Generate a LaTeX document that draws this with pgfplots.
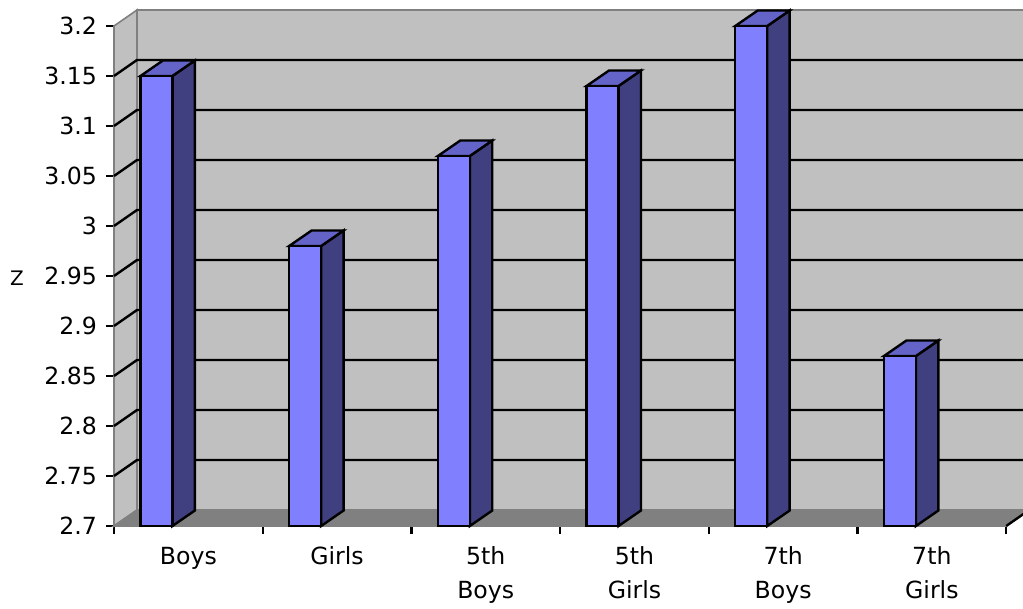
\documentclass[border=0pt]{standalone}
\usepackage{fontspec}
\setmainfont{DejaVu Sans}
\usepackage{pgfplots}
\pgfplotsset{compat=1.18}
\definecolor{front}{HTML}{8080FF}
\definecolor{side}{HTML}{404080}
\definecolor{topc}{HTML}{6464C8}
\definecolor{wall}{HTML}{C0C0C0}
\definecolor{floorc}{HTML}{808080}
\definecolor{edge}{HTML}{808080}
\begin{document}
\begin{tikzpicture}
\begin{axis}[
  at={(0,0)}, anchor=south west,
  scale only axis, width=446.1pt, height=250pt,
  xmin=0, xmax=6, ymin=2.7, ymax=3.2,
  clip=false,
  axis x line*=bottom, axis y line*=left,
  axis line style={black, line width=1.2pt, -},
  every tick/.style={black, line width=1.2pt},
  tick align=outside, major tick length=4pt,
  ytick={2.7,2.75,2.8,2.85,2.9,2.95,3,3.05,3.1,3.15,3.2},
  yticklabels={2.7,2.75,2.8,2.85,2.9,2.95,3,3.05,3.1,3.15,3.2},
  xtick={0,1,2,3,4,5,6},
  xticklabels={,,,,,,},
  extra x ticks={0.5,1.5,2.5,3.5,4.5,5.5},
  extra x tick labels={Boys,Girls,5th\\Boys,5th\\Girls,7th\\Boys,7th\\Girls},
  extra x tick style={major tick length=0pt},
  tick label style={font=\fontsize{11.8}{17}\selectfont},
  xticklabel style={align=center, anchor=north, yshift=-7pt},
  yticklabel style={xshift=-1pt},
  ylabel={Z},
  ylabel style={rotate=-90, font=\fontsize{11.8}{14}\selectfont},
  every axis y label/.style={at={(axis description cs:-0.1087,0.496)}, anchor=center},
]
% side wall
\addplot[fill=wall, draw=edge, line width=0.8pt, forget plot] coordinates {(0,2.7) (0.1547,2.716) (0.1547,3.216) (0,3.2)} -- cycle;
% back wall
\addplot[fill=wall, draw=edge, line width=0.8pt, forget plot] coordinates {(0.1547,2.716) (6.1547,2.716) (6.1547,3.216) (0.1547,3.216)} -- cycle;
% floor
\addplot[fill=floorc, draw=edge, line width=0.8pt, forget plot] coordinates {(0,2.7) (6,2.7) (6.1547,2.716) (0.1547,2.716)} -- cycle;
\addplot[black, line width=1.2pt, forget plot] coordinates {(6,2.7) (6.1547,2.716)};
% gridlines
\pgfplotsinvokeforeach{2.75,2.8,2.85,2.9,2.95,3,3.05,3.1,3.15}{
  \addplot[black, line width=1.2pt, forget plot] coordinates {(0,#1) (0.1547,#1+0.016) (6.1547,#1+0.016)};
}
% bars: side, top, front
\addplot[fill=side, draw=black, line width=1.2pt] coordinates {(0.393,2.7) (0.544,2.7155) (0.544,3.1655) (0.393,3.15)} -- cycle;
\addplot[fill=topc, draw=black, line width=1.2pt] coordinates {(0.178,3.15) (0.393,3.15) (0.544,3.1655) (0.329,3.1655)} -- cycle;
\addplot[fill=front, draw=black, line width=1.2pt] coordinates {(0.178,2.7) (0.393,2.7) (0.393,3.15) (0.178,3.15)} -- cycle;

\addplot[fill=side, draw=black, line width=1.2pt] coordinates {(1.393,2.7) (1.544,2.7155) (1.544,2.9955) (1.393,2.98)} -- cycle;
\addplot[fill=topc, draw=black, line width=1.2pt] coordinates {(1.178,2.98) (1.393,2.98) (1.544,2.9955) (1.329,2.9955)} -- cycle;
\addplot[fill=front, draw=black, line width=1.2pt] coordinates {(1.178,2.7) (1.393,2.7) (1.393,2.98) (1.178,2.98)} -- cycle;

\addplot[fill=side, draw=black, line width=1.2pt] coordinates {(2.393,2.7) (2.544,2.7155) (2.544,3.0855) (2.393,3.07)} -- cycle;
\addplot[fill=topc, draw=black, line width=1.2pt] coordinates {(2.178,3.07) (2.393,3.07) (2.544,3.0855) (2.329,3.0855)} -- cycle;
\addplot[fill=front, draw=black, line width=1.2pt] coordinates {(2.178,2.7) (2.393,2.7) (2.393,3.07) (2.178,3.07)} -- cycle;

\addplot[fill=side, draw=black, line width=1.2pt] coordinates {(3.393,2.7) (3.544,2.7155) (3.544,3.1555) (3.393,3.14)} -- cycle;
\addplot[fill=topc, draw=black, line width=1.2pt] coordinates {(3.178,3.14) (3.393,3.14) (3.544,3.1555) (3.329,3.1555)} -- cycle;
\addplot[fill=front, draw=black, line width=1.2pt] coordinates {(3.178,2.7) (3.393,2.7) (3.393,3.14) (3.178,3.14)} -- cycle;

\addplot[fill=side, draw=black, line width=1.2pt] coordinates {(4.393,2.7) (4.544,2.7155) (4.544,3.2155) (4.393,3.2)} -- cycle;
\addplot[fill=topc, draw=black, line width=1.2pt] coordinates {(4.178,3.2) (4.393,3.2) (4.544,3.2155) (4.329,3.2155)} -- cycle;
\addplot[fill=front, draw=black, line width=1.2pt] coordinates {(4.178,2.7) (4.393,2.7) (4.393,3.2) (4.178,3.2)} -- cycle;

\addplot[fill=side, draw=black, line width=1.2pt] coordinates {(5.393,2.7) (5.544,2.7155) (5.544,2.8855) (5.393,2.87)} -- cycle;
\addplot[fill=topc, draw=black, line width=1.2pt] coordinates {(5.178,2.87) (5.393,2.87) (5.544,2.8855) (5.329,2.8855)} -- cycle;
\addplot[fill=front, draw=black, line width=1.2pt] coordinates {(5.178,2.7) (5.393,2.7) (5.393,2.87) (5.178,2.87)} -- cycle;
\end{axis}
\pgfresetboundingbox
\path[use as bounding box] (-57pt,-41.5pt) rectangle (454.5pt,263pt);
\end{tikzpicture}
\end{document}
